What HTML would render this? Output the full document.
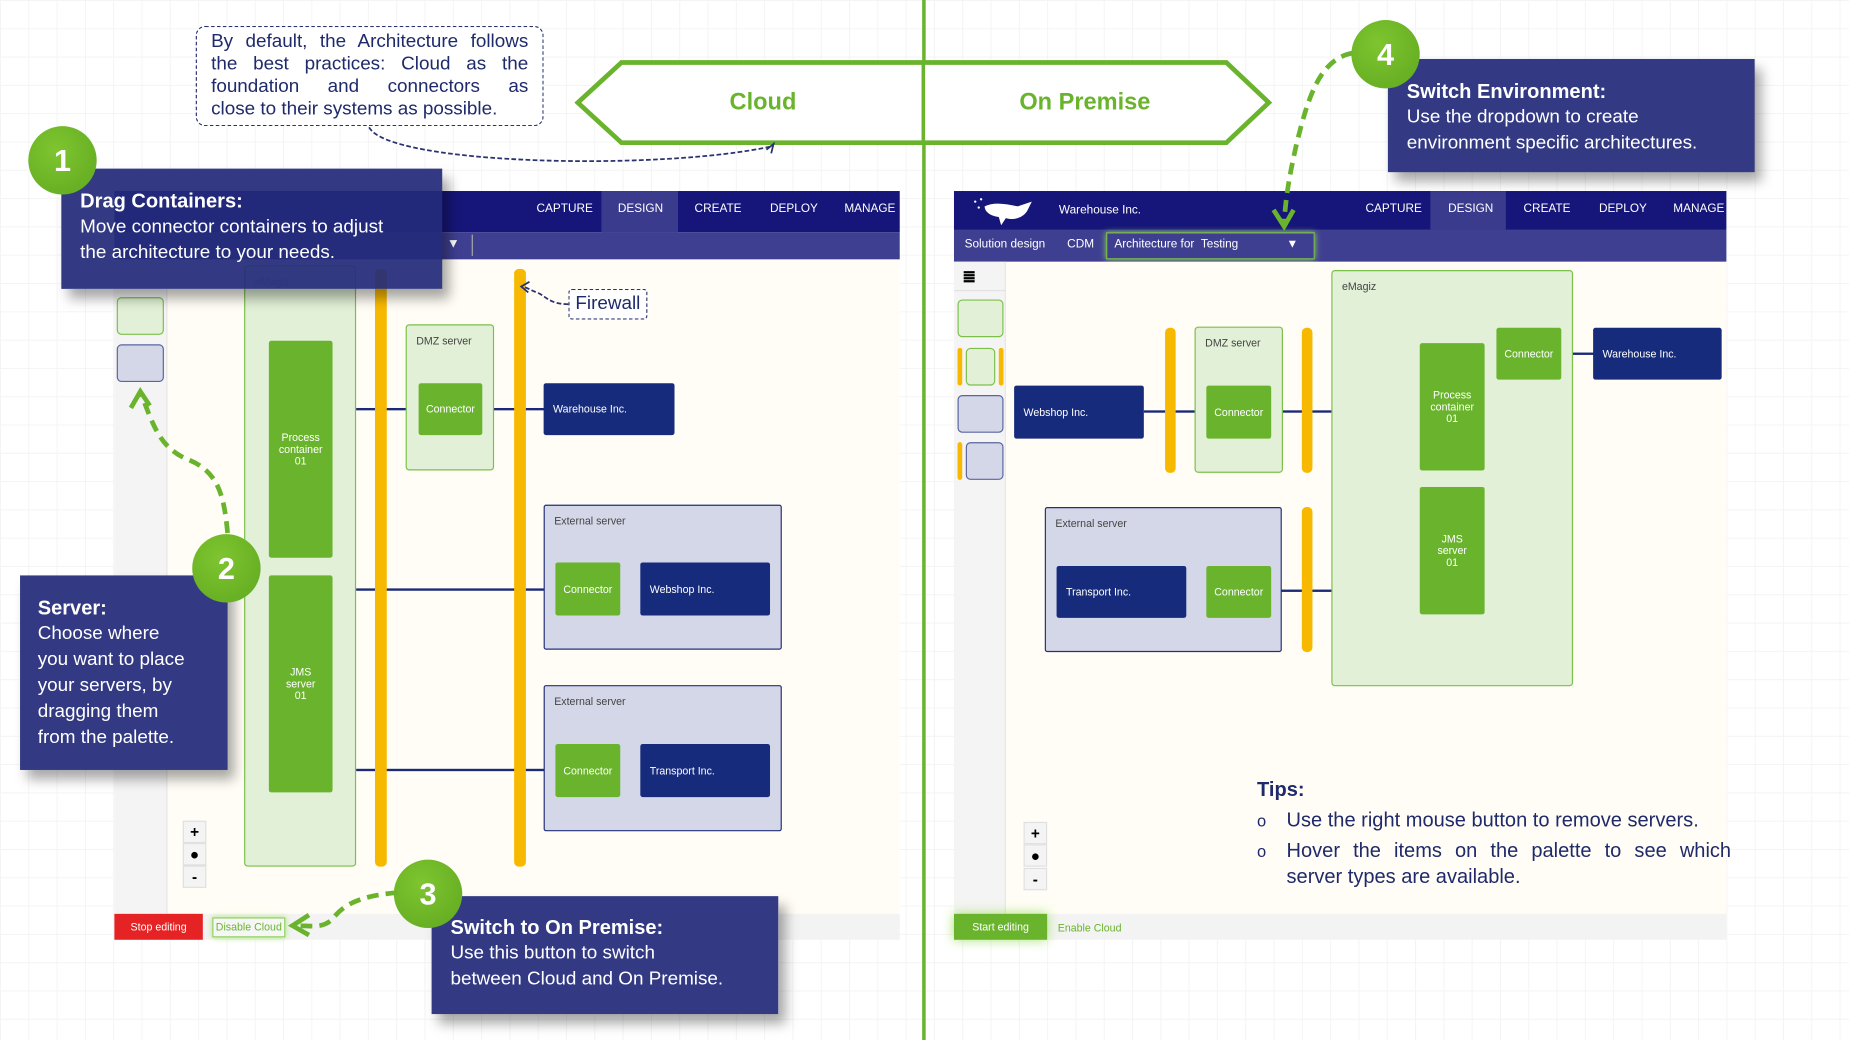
<!DOCTYPE html>
<html><head><meta charset="utf-8"><style>
html,body{margin:0;padding:0;width:1849px;height:1040px;overflow:hidden;background:#fff;}
#s{position:absolute;left:0;top:0;width:1568px;height:882px;transform:scale(1.17921,1.17914);transform-origin:0 0;font-family:"Liberation Sans Narrow","Liberation Sans",sans-serif;
background-image:linear-gradient(#f4f4f4 1px,transparent 1px),linear-gradient(90deg,#f4f4f4 1px,transparent 1px);background-size:24px 24px;}
.a{position:absolute;box-sizing:border-box;}
.hdr{background:#16167a;}
.sub{background:#3f3f92;}
.tab{position:absolute;color:#fff;font-size:10px;top:10px;}
.cv{background:#fffdf5;}
.pal{background:#f4f4f4;border-right:1px solid #e6e6e6;}
.lg{background:#e1f0d6;border:1.5px solid #7cc04a;border-radius:3px;}
.gr{background:#6ab42d;border-radius:2px;color:#fff;font-size:9px;display:flex;align-items:center;justify-content:center;text-align:center;line-height:10px;}
.nv{background:#172b7c;border-radius:2px;color:#fff;font-size:9px;display:flex;align-items:center;padding-left:8px;}
.ext{background:#d4d7e8;border:1.5px solid #25307a;border-radius:2px;}
.yb{background:#f7b900;border-radius:4px;}
.ln{background:#1a2a78;height:2px;}
.lbl{position:absolute;font-size:9px;color:#444;left:8px;top:8px;}
.box{background:rgba(35,43,122,.93);color:#fff;font-family:"Liberation Sans",sans-serif;font-size:16px;box-shadow:6px 8px 10px rgba(0,0,0,.35);white-space:nowrap;}
.box b{display:block;font-size:17px;}
.circ{border-radius:50%;background:radial-gradient(circle at 40% 35%,#7fc530,#5fa81f);color:#fff;font-family:"Liberation Sans",sans-serif;font-weight:bold;font-size:26px;display:flex;align-items:center;justify-content:center;width:58px;height:58px;}
.zm{background:#f4f4f4;border:1px solid #e0e0e0;font-size:13px;font-weight:bold;text-align:center;width:20px;height:19px;line-height:18px;}
.pi{border-radius:4px;}
</style></head><body><div id="s">

<div class="a" style="left:782px;top:0;width:3px;height:882px;background:#6ab42d"></div>

<svg class="a" style="left:0;top:0" width="1568" height="882">
<polygon points="490,87 527,53 1040,53 1076,87 1040,121 527,121" fill="#fff" stroke="#6ab42d" stroke-width="4"/>
<line x1="783" y1="53" x2="783" y2="121" stroke="#6ab42d" stroke-width="3"/>
<path d="M313,108 C330,140 560,145 655,124" fill="none" stroke="#2a3270" stroke-width="1.5" stroke-dasharray="4,2"/>
<path d="M650,127 L656,122 L654,130" fill="none" stroke="#2a3270" stroke-width="1.5"/>
</svg>
<div class="a" style="left:527px;top:76px;width:240px;text-align:center;color:#6ab42d;font-weight:bold;font-size:20px;font-family:'Liberation Sans',sans-serif">Cloud</div>
<div class="a" style="left:800px;top:76px;width:240px;text-align:center;color:#6ab42d;font-weight:bold;font-size:20px;font-family:'Liberation Sans',sans-serif">On Premise</div>

<div class="a" style="left:166px;top:22px;width:295px;height:85px;border:1.5px dashed #2a3270;border-radius:8px;background:#fff;padding:3px 12px;color:#1f2a6b;font-size:16px;line-height:19px;text-align:justify;text-align-last:justify">By default, the Architecture follows the best practices: Cloud as the foundation and connectors as <span style="display:inline-block;text-align:left">close to their systems as possible.</span></div>

<!-- LEFT APP -->
<div class="a hdr" style="left:97px;top:162px;width:666px;height:35px">
<div class="a" style="left:413px;top:0;width:65px;height:35px;background:#3b3b8e"></div>
<span class="tab" style="left:358px">CAPTURE</span><span class="tab" style="left:427px">DESIGN</span><span class="tab" style="left:492px">CREATE</span><span class="tab" style="left:556px">DEPLOY</span><span class="tab" style="left:619px">MANAGE</span>
</div>
<div class="a sub" style="left:97px;top:197px;width:666px;height:23px"><span class="a" style="left:282px;top:4px;color:#fff;font-size:11px">▼</span><div class="a" style="left:303px;top:2px;width:1px;height:18px;background:#aaa"></div></div>
<div class="a cv" style="left:97px;top:220px;width:666px;height:555px"></div>
<div class="a pal" style="left:97px;top:220px;width:45px;height:555px"></div>
<div class="a lg pi" style="left:99px;top:252px;width:40px;height:32px"></div>
<div class="a pi" style="left:99px;top:292px;width:40px;height:32px;background:#d4d7e8;border:1.5px solid #5a64a0"></div>
<div class="a" style="left:97px;top:775px;width:666px;height:22px;background:#f3f3f3"></div>
<div class="a" style="left:97px;top:775px;width:75px;height:22px;background:#e52224;color:#fff;font-size:9px;text-align:center;line-height:22px">Stop editing</div>
<div class="a" style="left:180px;top:778px;width:62px;height:17px;border:1.5px solid #8fd060;box-shadow:0 0 5px #a6e070;background:#f6f6f6;color:#6ab42d;font-size:9px;text-align:center;line-height:14px">Disable Cloud</div>
<div class="a zm" style="left:155px;top:696px">+</div><div class="a zm" style="left:155px;top:715px">●</div><div class="a zm" style="left:155px;top:734px">-</div>

<div class="a ln" style="left:302px;top:346px;width:160px"></div>
<div class="a ln" style="left:302px;top:499px;width:170px"></div>
<div class="a ln" style="left:302px;top:652px;width:170px"></div>
<div class="a lg" style="left:207px;top:225px;width:95px;height:510px"><span class="lbl" style="color:#9a9">eMagiz</span></div>
<div class="a gr" style="left:228px;top:289px;width:54px;height:184px">Process<br>container<br>01</div>
<div class="a gr" style="left:228px;top:488px;width:54px;height:184px">JMS<br>server<br>01</div>
<div class="a yb" style="left:318px;top:228px;width:10px;height:507px"></div>
<div class="a yb" style="left:436px;top:228px;width:10px;height:507px"></div>
<div class="a lg" style="left:344px;top:275px;width:75px;height:124px"><span class="lbl">DMZ server</span></div>
<div class="a gr" style="left:355px;top:325px;width:54px;height:44px">Connector</div>
<div class="a nv" style="left:461px;top:325px;width:111px;height:44px">Warehouse Inc.</div>
<div class="a ext" style="left:461px;top:428px;width:202px;height:123px"><span class="lbl">External server</span></div>
<div class="a gr" style="left:471px;top:477px;width:55px;height:45px">Connector</div>
<div class="a nv" style="left:543px;top:477px;width:110px;height:45px">Webshop Inc.</div>
<div class="a ext" style="left:461px;top:581px;width:202px;height:124px"><span class="lbl">External server</span></div>
<div class="a gr" style="left:471px;top:631px;width:55px;height:45px">Connector</div>
<div class="a nv" style="left:543px;top:631px;width:110px;height:45px">Transport Inc.</div>
<div class="a" style="left:482px;top:245px;width:67px;height:26px;border:1.5px dashed #2a3270;border-radius:3px;background:#fff;color:#1f2a6b;font-size:16px;text-align:center;line-height:23px">Firewall</div>

<!-- RIGHT APP -->
<div class="a hdr" style="left:809px;top:162px;width:655px;height:33px">
<svg class="a" style="left:14px;top:3px" width="60" height="28"><path d="M12,10 C20,6 30,8 40,10 L52,6 L48,14 C44,20 36,22 30,20 L26,26 L24,19 C16,18 12,14 12,10Z" fill="#fff"/><circle cx="4" cy="6" r="1" fill="#fff"/><circle cx="9" cy="4" r="1" fill="#fff"/><circle cx="7" cy="11" r="1" fill="#fff"/></svg>
<span class="tab" style="left:89px;top:11px">Warehouse Inc.</span>
<div class="a" style="left:404px;top:0;width:64px;height:33px;background:#3b3b8e"></div>
<span class="tab" style="left:349px">CAPTURE</span><span class="tab" style="left:419px">DESIGN</span><span class="tab" style="left:483px">CREATE</span><span class="tab" style="left:547px">DEPLOY</span><span class="tab" style="left:610px">MANAGE</span>
</div>
<div class="a sub" style="left:809px;top:195px;width:655px;height:27px">
<span class="a" style="left:9px;top:7px;color:#fff;font-size:10px">Solution design</span><span class="a" style="left:96px;top:7px;color:#fff;font-size:10px">CDM</span>
<div class="a" style="left:129px;top:2px;width:177px;height:23px;border:1.5px solid #7cc04a;box-shadow:0 0 5px #8fd060"><span class="a" style="left:6px;top:4px;color:#fff;font-size:10px">Architecture for &nbsp;Testing</span><span class="a" style="left:152px;top:4px;color:#fff;font-size:10px">▼</span></div>
</div>
<div class="a cv" style="left:809px;top:222px;width:655px;height:553px"></div>
<div class="a pal" style="left:809px;top:222px;width:44px;height:553px"></div>
<div class="a" style="left:809px;top:246px;width:44px;height:1px;background:#e2e2e2"></div>
<div class="a" style="left:816px;top:226px;font-size:14px;font-weight:bold">≣</div>
<div class="a lg pi" style="left:812px;top:254px;width:39px;height:32px"></div>
<div class="a yb" style="left:812px;top:295px;width:4px;height:32px"></div><div class="a yb" style="left:847px;top:295px;width:4px;height:32px"></div>
<div class="a lg pi" style="left:819px;top:295px;width:25px;height:32px"></div>
<div class="a pi" style="left:812px;top:335px;width:39px;height:32px;background:#d4d7e8;border:1.5px solid #5a64a0"></div>
<div class="a yb" style="left:812px;top:375px;width:4px;height:32px"></div>
<div class="a pi" style="left:819px;top:375px;width:32px;height:32px;background:#d4d7e8;border:1.5px solid #5a64a0"></div>
<div class="a" style="left:809px;top:775px;width:655px;height:22px;background:#f3f3f3"></div>
<div class="a" style="left:809px;top:775px;width:79px;height:22px;background:#6ab42d;box-shadow:0 0 10px #a6e070;color:#fff;font-size:9px;text-align:center;line-height:22px">Start editing</div>
<span class="a" style="left:897px;top:782px;color:#6ab42d;font-size:9px">Enable Cloud</span>
<div class="a zm" style="left:868px;top:697px">+</div><div class="a zm" style="left:868px;top:716px">●</div><div class="a zm" style="left:868px;top:736px">-</div>

<div class="a ln" style="left:970px;top:348px;width:160px"></div>
<div class="a ln" style="left:1078px;top:500px;width:52px"></div>
<div class="a ln" style="left:1324px;top:299px;width:28px"></div>
<div class="a nv" style="left:860px;top:327px;width:110px;height:45px">Webshop Inc.</div>
<div class="a yb" style="left:988px;top:278px;width:9px;height:123px"></div>
<div class="a lg" style="left:1013px;top:277px;width:75px;height:124px"><span class="lbl">DMZ server</span></div>
<div class="a gr" style="left:1023px;top:327px;width:55px;height:45px">Connector</div>
<div class="a yb" style="left:1104px;top:278px;width:9px;height:123px"></div>
<div class="a lg" style="left:1129px;top:229px;width:205px;height:353px"><span class="lbl">eMagiz</span></div>
<div class="a gr" style="left:1204px;top:291px;width:55px;height:108px">Process<br>container<br>01</div>
<div class="a gr" style="left:1204px;top:413px;width:55px;height:108px">JMS<br>server<br>01</div>
<div class="a gr" style="left:1269px;top:278px;width:55px;height:44px">Connector</div>
<div class="a nv" style="left:1351px;top:278px;width:109px;height:44px">Warehouse Inc.</div>
<div class="a ext" style="left:886px;top:430px;width:201px;height:123px"><span class="lbl">External server</span></div>
<div class="a nv" style="left:896px;top:480px;width:110px;height:44px">Transport Inc.</div>
<div class="a gr" style="left:1023px;top:480px;width:55px;height:44px">Connector</div>
<div class="a yb" style="left:1104px;top:430px;width:9px;height:123px"></div>

<div class="a" style="left:1066px;top:659px;width:402px;color:#1f2a6b;font-family:'Liberation Sans',sans-serif;font-size:17px;line-height:22px">
<b>Tips:</b>
<div style="position:relative;padding-left:25px;margin-top:4px"><span style="position:absolute;left:0;font-size:14px">o</span>Use the right mouse button to remove servers.</div>
<div style="position:relative;padding-left:25px;margin-top:4px;text-align:justify"><span style="position:absolute;left:0;font-size:14px">o</span>Hover the items on the palette to see which server types are available.</div>
</div>

<!-- callouts -->
<div class="a box" style="left:52px;top:143px;width:323px;height:102px;padding:17px 16px 0;line-height:22px"><b>Drag Containers:</b>Move connector containers to adjust<br>the architecture to your needs.</div>
<div class="a circ" style="left:24px;top:107px">1</div>
<div class="a box" style="left:17px;top:488px;width:176px;height:165px;padding:17px 15px 0;line-height:22px"><b>Server:</b>Choose where<br>you want to place<br>your servers, by<br>dragging them<br>from the palette.</div>
<div class="a circ" style="left:163px;top:453px">2</div>
<div class="a box" style="left:366px;top:760px;width:294px;height:100px;padding:16px 16px 0;line-height:22px"><b>Switch to On Premise:</b>Use this button to switch<br>between Cloud and On Premise.</div>
<div class="a circ" style="left:334px;top:729px">3</div>
<div class="a box" style="left:1177px;top:50px;width:311px;height:96px;padding:17px 16px 0;line-height:22px"><b>Switch Environment:</b>Use the dropdown to create<br>environment specific architectures.</div>
<div class="a circ" style="left:1146px;top:17px">4</div>

<svg class="a" style="left:0;top:0" width="1568" height="882">
<g fill="none" stroke="#6ab42d" stroke-width="4" stroke-dasharray="10,6">
<path d="M193,452 C190,420 185,400 160,390 C135,380 130,360 120,335"/>
<path d="M337,757 C300,760 290,770 283,778 C275,788 265,785 250,785"/>
<path d="M1147,45 C1120,50 1110,80 1100,120 C1093,150 1090,170 1089,190"/>
</g>
<g fill="none" stroke="#6ab42d" stroke-width="4">
<path d="M111,346 L119,332 L127,344"/>
<path d="M262,776 L248,785 L262,793"/>
<path d="M1080,178 L1089,192 L1097,178"/>
</g>
<path d="M482,258 C465,258 462,250 455,248 C450,246 447,244 443,243" fill="none" stroke="#2a3270" stroke-width="1.5" stroke-dasharray="4,2"/>
<path d="M449,239 L442,243 L448,248" fill="none" stroke="#2a3270" stroke-width="1.5"/>
</svg>
</div></body></html>
